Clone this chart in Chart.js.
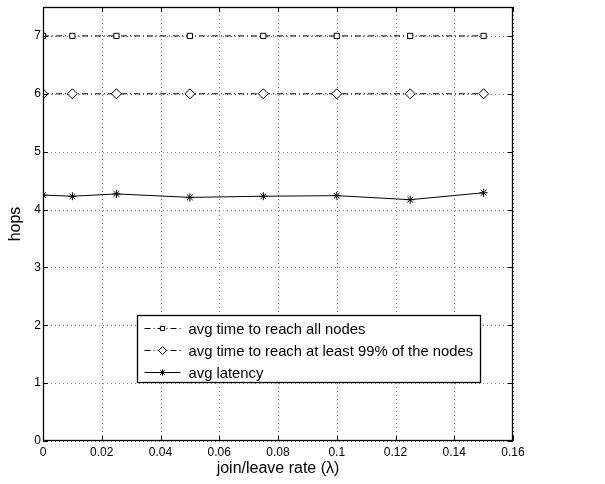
<!DOCTYPE html>
<html>
<head>
<meta charset="utf-8">
<script src="https://cdn.jsdelivr.net/npm/chart.js@4"></script>
<style>
  html, body { margin: 0; padding: 0; background: #fff; }
  #wrap { width: 605px; height: 484px; position: relative; }
</style>
</head>
<body>
<div id="wrap"><canvas id="chart" width="605" height="484"></canvas></div>
<script>
// join/leave rate values
const rates = [0, 0.01, 0.025, 0.05, 0.075, 0.1, 0.125, 0.15];
const reachAll = [7, 7, 7, 7, 7, 7, 7, 7];
const reach99 = [6, 6, 6, 6, 6, 6, 6, 6];
const latency = [4.25, 4.23, 4.27, 4.21, 4.23, 4.24, 4.17, 4.29];
const xTicks = [0, 0.02, 0.04, 0.06, 0.08, 0.1, 0.12, 0.14, 0.16];
const yTicks = [0, 1, 2, 3, 4, 5, 6, 7];
const seriesNames = ['avg time to reach all nodes', 'avg time to reach at least 99% of the nodes', 'avg latency'];

const FONT = 'Liberation Sans, Arial, Helvetica, sans-serif';

function toPts(ys) {
    return rates.map((x, i) => ({ x: x, y: ys[i] }));
}

// dotted grid drawn under the lines
const dottedGrid = {
    id: 'dottedGrid',
    beforeDatasetsDraw(chart) {
        const ctx = chart.ctx;
        const a = chart.chartArea;
        const xs = chart.scales.x, ys = chart.scales.y;
        ctx.save();
        ctx.strokeStyle = '#888';
        ctx.lineWidth = 1;
        ctx.setLineDash([1, 3]);
        ctx.beginPath();
        xTicks.forEach(v => {
            const px = Math.round(xs.getPixelForValue(v)) + 0.5;
            ctx.moveTo(px, a.top); ctx.lineTo(px, a.bottom);
        });
        yTicks.forEach(v => {
            const py = Math.round(ys.getPixelForValue(v)) + 0.5;
            ctx.moveTo(a.left, py); ctx.lineTo(a.right, py);
        });
        ctx.stroke();
        ctx.restore();
    }
};

// frame, inside tick marks and the legend box
const frameAndLegend = {
    id: 'frameAndLegend',
    afterDraw(chart) {
        const ctx = chart.ctx;
        const a = chart.chartArea;
        const xs = chart.scales.x, ys = chart.scales.y;
        ctx.save();
        ctx.strokeStyle = '#000';
        ctx.lineWidth = 1.3;
        ctx.setLineDash([]);
        ctx.strokeRect(a.left + 0.5, a.top + 0.5, a.right - a.left - 1, a.bottom - a.top - 1);
        ctx.lineWidth = 1;
        ctx.beginPath();
        xTicks.forEach(v => {
            const px = Math.round(xs.getPixelForValue(v)) + 0.5;
            ctx.moveTo(px, a.bottom); ctx.lineTo(px, a.bottom - 5);
            ctx.moveTo(px, a.top); ctx.lineTo(px, a.top + 5);
        });
        yTicks.forEach(v => {
            const py = Math.round(ys.getPixelForValue(v)) + 0.5;
            ctx.moveTo(a.left, py); ctx.lineTo(a.left + 5, py);
            ctx.moveTo(a.right, py); ctx.lineTo(a.right - 5, py);
        });
        ctx.stroke();

        // legend
        const bx = 137.5, by = 315.5, bw = 343, bh = 67;
        ctx.fillStyle = '#fff';
        ctx.fillRect(bx, by, bw, bh);
        ctx.lineWidth = 1.3;
        ctx.strokeRect(bx, by, bw, bh);
        ctx.lineWidth = 1;
        ctx.font = '14.8px ' + FONT;
        ctx.textBaseline = 'middle';
        const rowY = [by + 12, by + 34, by + 56];
        chart.data.datasets.forEach((ds, i) => {
            const y = Math.round(rowY[i]) + 0.5;
            ctx.strokeStyle = '#000';
            ctx.setLineDash(ds.borderDash || []);
            ctx.beginPath();
            ctx.moveTo(bx + 7, y); ctx.lineTo(bx + 43, y);
            ctx.stroke();
            ctx.setLineDash([]);
            ctx.fillStyle = ds.pointBackgroundColor;
            Chart.helpers.drawPoint(ctx, {
                pointStyle: ds.pointStyle,
                radius: ds.pointRadius * 0.8,
                borderWidth: 1
            }, bx + 25, y);
            ctx.fillStyle = '#000';
            ctx.fillText(seriesNames[i], bx + 51, y + 1);
        });
        ctx.restore();
    }
};

new Chart(document.getElementById('chart'), {
    type: 'line',
    data: {
        datasets: [
            {
                label: seriesNames[0],
                data: toPts(reachAll),
                borderColor: '#000', borderWidth: 1,
                borderDash: [6, 3, 1, 3],
                pointStyle: 'rect', pointRadius: 3.7,
                pointBackgroundColor: '#fff', pointBorderColor: '#000', pointBorderWidth: 1
            },
            {
                label: seriesNames[1],
                data: toPts(reach99),
                borderColor: '#000', borderWidth: 1,
                borderDash: [6, 3, 1, 3],
                pointStyle: 'rectRot', pointRadius: 5,
                pointBackgroundColor: '#fff', pointBorderColor: '#000', pointBorderWidth: 1
            },
            {
                label: seriesNames[2],
                data: toPts(latency),
                borderColor: '#000', borderWidth: 1,
                pointStyle: 'star', pointRadius: 4,
                pointBackgroundColor: '#000', pointBorderColor: '#000', pointBorderWidth: 1
            }
        ]
    },
    options: {
        responsive: false,
        animation: false,
        events: [],
        layout: { padding: { top: 7, right: 92, left: 0, bottom: 0 } },
        plugins: {
            legend: { display: false },
            tooltip: { enabled: false }
        },
        scales: {
            x: {
                type: 'linear',
                min: 0, max: 0.16,
                afterBuildTicks: s => { s.ticks = xTicks.map(v => ({ value: v })); },
                afterFit: s => { s.height = 43; s.paddingLeft = 0; s.paddingRight = 0; },
                grid: { display: false, drawTicks: false, tickLength: 0 },
                border: { display: false },
                ticks: {
                    color: '#000', padding: 4,
                    font: { family: FONT, size: 12 },
                    maxRotation: 0,
                    callback: v => String(v)
                },
                title: {
                    display: true, text: 'join/leave rate (λ)', color: '#000',
                    font: { family: FONT, size: 16 }, padding: { top: 0, bottom: 6 }
                }
            },
            y: {
                min: 0, max: 7.5,
                afterBuildTicks: s => { s.ticks = yTicks.map(v => ({ value: v })); },
                afterFit: s => { s.width = 43; s.paddingTop = 0; s.paddingBottom = 0; },
                grid: { display: false, drawTicks: false, tickLength: 0 },
                border: { display: false },
                ticks: {
                    color: '#000', padding: 2,
                    font: { family: FONT, size: 12 }
                },
                title: {
                    display: true, text: 'hops', color: '#000',
                    font: { family: FONT, size: 16 }, padding: { top: 6, bottom: 0 }
                }
            }
        }
    },
    plugins: [dottedGrid, frameAndLegend]
});
</script>
</body>
</html>
